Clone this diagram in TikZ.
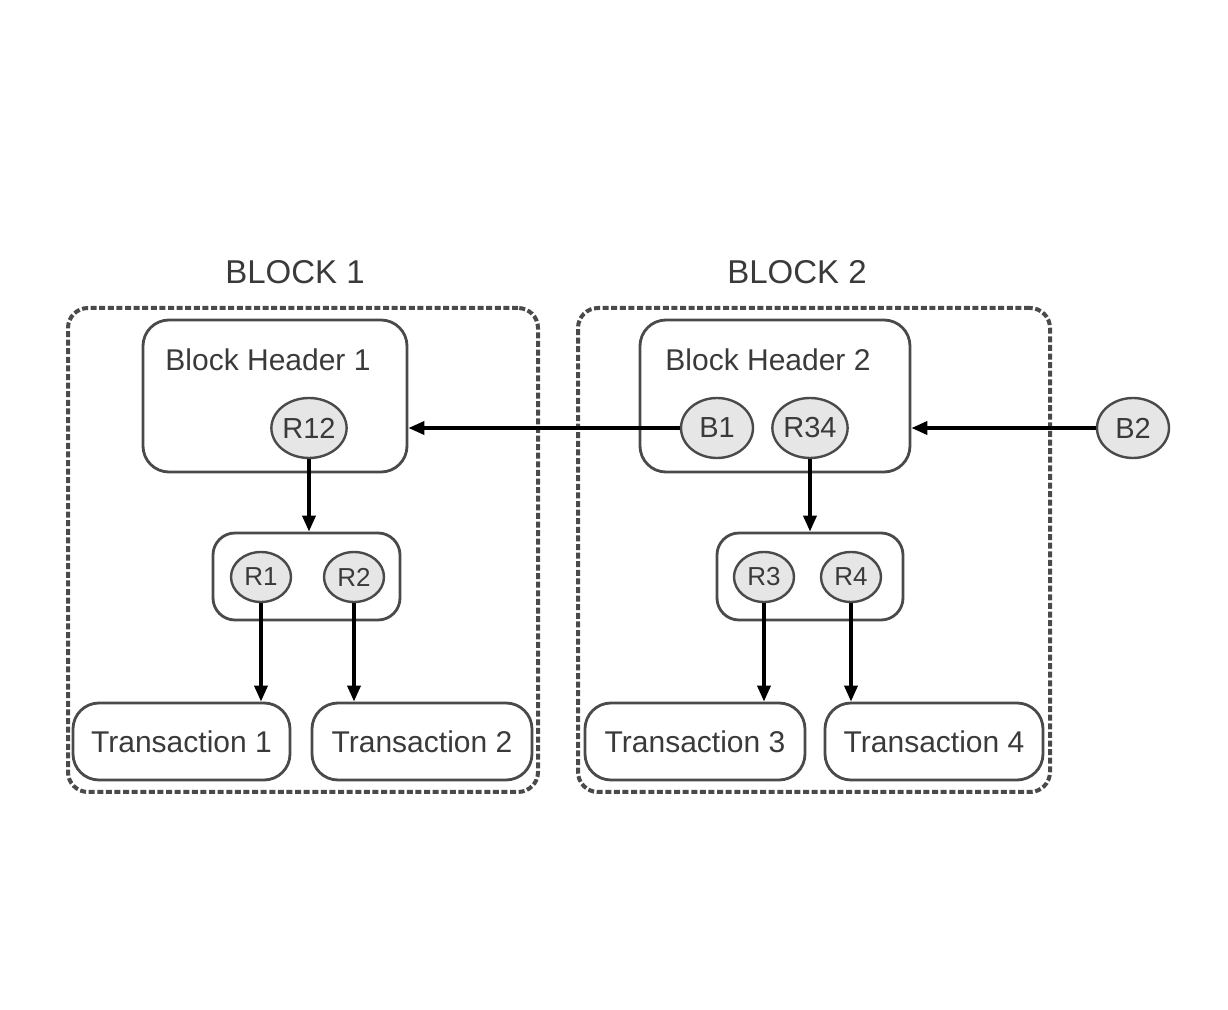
\documentclass[tikz,border=0pt]{standalone}
\usepackage{fontspec}
\setmainfont{Liberation Sans}
\usetikzlibrary{arrows.meta,shapes.geometric}
\definecolor{edge}{HTML}{4A4A4A}
\definecolor{txt}{HTML}{3A3A3A}
\definecolor{cfill}{HTML}{E6E6E6}
\tikzset{
  outerbox/.style={draw=edge, line width=2pt, dash pattern=on 3pt off 1.3pt, rounded corners=10pt, inner sep=0pt},
  hdrbox/.style={draw=edge, line width=1.4pt, rounded corners=13pt, inner sep=0pt},
  rootbox/.style={draw=edge, line width=1.4pt, rounded corners=11pt, inner sep=0pt},
  txbox/.style={draw=edge, line width=1.4pt, rounded corners=13pt, inner sep=0pt, minimum height=38.5pt, text=txt, font=\fontsize{15}{18}\selectfont},
  bigc/.style={ellipse, draw=edge, line width=1.2pt, fill=cfill, minimum width=36pt, minimum height=30pt, inner sep=0pt, text=txt, font=\fontsize{14.5}{17}\selectfont},
  smallc/.style={ellipse, draw=edge, line width=1.2pt, fill=cfill, minimum width=30pt, minimum height=25pt, inner sep=0pt, text=txt, font=\fontsize{13}{15}\selectfont},
  lbl/.style={text=txt, inner sep=0pt},
  arr/.style={draw=black, line width=1.8pt, -{Triangle[length=8pt,width=6.5pt]}}
}
\begin{document}
\begin{tikzpicture}[x=0.5pt,y=-0.5pt]
\useasboundingbox (0,0) rectangle (1228,1010);
% outer blocks
\node[outerbox, minimum width=235pt, minimum height=242pt] (O1) at (303,550) {};
\node[outerbox, minimum width=236pt, minimum height=242pt] (O2) at (814,550) {};
\node[lbl, font=\fontsize{16.5}{20}\selectfont] (L1) at (295,272) {BLOCK 1};
\node[lbl, font=\fontsize{16.5}{20}\selectfont] (L2) at (797,272) {BLOCK 2};
% headers
\node[hdrbox, minimum width=132pt, minimum height=76pt] (H1) at (275,396) {};
\node[hdrbox, minimum width=135pt, minimum height=76pt] (H2) at (775,396) {};
\node[lbl, font=\fontsize{15}{18}\selectfont] (HT1) at (268,360) {Block Header 1};
\node[lbl, font=\fontsize{15}{18}\selectfont] (HT2) at (768,360) {Block Header 2};
\node[bigc] (R12) at (309,428) {R12};
\node[bigc] (B1) at (717,428) {B1};
\node[bigc] (R34) at (810,428) {R34};
\node[bigc] (B2) at (1133,428) {B2};
% root boxes
\node[rootbox, minimum width=93.5pt, minimum height=43.5pt] (I1) at (306.5,576.5) {};
\node[rootbox, minimum width=93pt, minimum height=43.5pt] (I2) at (810,576.5) {};
\node[smallc] (R1) at (261,577) {R1};
\node[smallc] (R2) at (354,577) {R2};
\node[smallc] (R3) at (764,577) {R3};
\node[smallc] (R4) at (851,577) {R4};
% transactions
\node[txbox, minimum width=108.5pt] (T1) at (181.5,741.5) {Transaction 1};
\node[txbox, minimum width=110pt] (T2) at (422,741.5) {Transaction 2};
\node[txbox, minimum width=110pt] (T3) at (695,741.5) {Transaction 3};
\node[txbox, minimum width=109pt] (T4) at (934,741.5) {Transaction 4};
% connectors
\draw[arr] (R12.south) -- (R12.south |- I1.north);
\draw[arr] (R34.south) -- (R34.south |- I2.north);
\draw[arr] (R1.south) -- (R1.south |- T1.north);
\draw[arr] (R2.south) -- (R2.south |- T2.north);
\draw[arr] (R3.south) -- (R3.south |- T3.north);
\draw[arr] (R4.south) -- (R4.south |- T4.north);
\draw[arr] (B1.west) -- (B1.west -| H1.east);
\draw[arr] (B2.west) -- (B2.west -| H2.east);
\end{tikzpicture}
\end{document}
